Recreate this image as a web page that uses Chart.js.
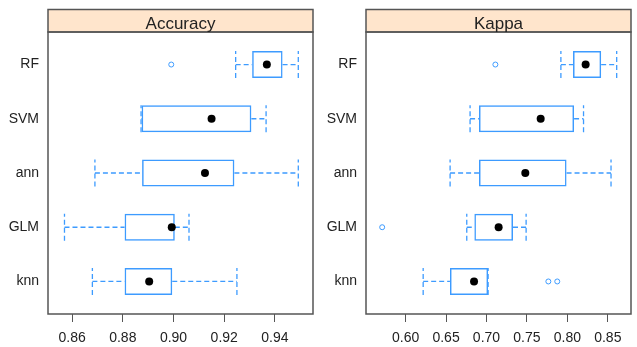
<!DOCTYPE html>
<html lang="en">
<head>
    <meta charset="UTF-8">
    <title>Accuracy and Kappa by model</title>
    <script src="https://cdn.jsdelivr.net/npm/chart.js"></script>
    <style>
        body { margin: 0; background: #fff; }
        .panel { position: absolute; top: 0; }
    </style>
</head>
<body>
    <canvas id="accChart" class="panel" width="318" height="347" style="left:0px"></canvas>
    <canvas id="kapChart" class="panel" width="318" height="347" style="left:318px"></canvas>
    <script>
        // models, top to bottom
        var models = ['RF', 'SVM', 'ann', 'GLM', 'knn'];

        // Accuracy: whisker low, Q1, median, Q3, whisker high, outliers
        var accLow  = [0.9245, 0.8872, 0.8690, 0.8570, 0.8680];
        var accQ1   = [0.9310, 0.8874, 0.8876, 0.8807, 0.8807];
        var accMed  = [0.9368, 0.9150, 0.9124, 0.8993, 0.8904];
        var accQ3   = [0.9430, 0.9307, 0.9240, 0.9005, 0.8995];
        var accHigh = [0.9492, 0.9365, 0.9492, 0.9061, 0.9250];
        var accOut  = [[0.8991], [], [], [], []];
        var accTicks = [0.86, 0.88, 0.90, 0.92, 0.94];

        // Kappa
        var kapLow  = [0.7920, 0.6797, 0.6550, 0.6756, 0.6217];
        var kapQ1   = [0.8070, 0.6907, 0.6907, 0.6850, 0.6548];
        var kapMed  = [0.8226, 0.7670, 0.7480, 0.7150, 0.6846];
        var kapQ3   = [0.8418, 0.8083, 0.7990, 0.7328, 0.7020];
        var kapHigh = [0.8610, 0.8200, 0.8540, 0.7490, 0.7020];
        var kapOut  = [[0.7110], [], [], [0.5710], [0.7765, 0.7875]];
        var kapTicks = [0.60, 0.65, 0.70, 0.75, 0.80, 0.85];

        var BLUE = '#3d9bff';
        var FONT = '"Liberation Sans", Arial, sans-serif';

        // strip on top + panel frame
        var panelFrame = {
            id: 'panelFrame',
            afterDraw: function(chart, args, opts) {
                var ctx = chart.ctx, a = chart.chartArea;
                var h = 22.5;
                ctx.save();
                ctx.fillStyle = '#ffe5cc';
                ctx.fillRect(a.left, a.top - h, a.right - a.left, h);
                ctx.strokeStyle = '#555';
                ctx.lineWidth = 1.5;
                ctx.strokeRect(a.left, a.top - h, a.right - a.left, h);
                ctx.strokeRect(a.left, a.top, a.right - a.left, a.bottom - a.top);
                ctx.fillStyle = '#222';
                ctx.font = '17px ' + FONT;
                ctx.textAlign = 'center';
                ctx.textBaseline = 'alphabetic';
                ctx.fillText(opts.title, (a.left + a.right) / 2, a.top - 3.5);
                ctx.restore();
            }
        };

        function rowY(i) { return models.length - i; }

        function whiskers(lo, q1, q3, hi) {
            var pts = [];
            var gap = { x: null, y: null };
            models.forEach(function(m, i) {
                var y = rowY(i);
                pts.push({ x: lo[i], y: y - 0.25 }, { x: lo[i], y: y + 0.25 }, gap,
                         { x: lo[i], y: y }, { x: q1[i], y: y }, gap,
                         { x: q3[i], y: y }, { x: hi[i], y: y }, gap,
                         { x: hi[i], y: y - 0.25 }, { x: hi[i], y: y + 0.25 }, gap);
            });
            return pts;
        }

        function makePanel(id, title, lo, q1, med, q3, hi, out, ticks, xmin, xmax) {
            var outliers = [];
            out.forEach(function(vals, i) {
                vals.forEach(function(v) { outliers.push({ x: v, y: rowY(i) }); });
            });
            return new Chart(document.getElementById(id), {
                type: 'bar',
                data: {
                    datasets: [{
                        type: 'scatter',
                        data: models.map(function(m, i) { return { x: med[i], y: rowY(i) }; }),
                        pointRadius: 4,
                        pointBackgroundColor: '#000',
                        pointBorderWidth: 0
                    }, {
                        type: 'scatter',
                        data: outliers,
                        pointRadius: 2.5,
                        pointBackgroundColor: '#fff',
                        pointBorderColor: BLUE,
                        pointBorderWidth: 1
                    }, {
                        type: 'bar',
                        data: models.map(function(m, i) { return { x: [q1[i], q3[i]], y: rowY(i) }; }),
                        backgroundColor: 'rgba(0,0,0,0)',
                        borderColor: BLUE,
                        borderWidth: 1.5,
                        borderSkipped: false,
                        categoryPercentage: 1,
                        barPercentage: 0.5
                    }, {
                        type: 'line',
                        data: whiskers(lo, q1, q3, hi),
                        borderColor: BLUE,
                        borderWidth: 1.3,
                        borderDash: [5, 3],
                        pointRadius: 0,
                        spanGaps: false,
                        fill: false,
                        tension: 0
                    }]
                },
                options: {
                    indexAxis: 'y',
                    responsive: false,
                    animation: false,
                    events: [],
                    layout: { padding: { top: 32, right: 2, left: 0, bottom: 0 } },
                    plugins: {
                        legend: { display: false },
                        tooltip: { enabled: false },
                        panelFrame: { title: title }
                    },
                    scales: {
                        x: {
                            type: 'linear',
                            min: xmin,
                            max: xmax,
                            offset: false,
                            afterBuildTicks: function(s) { s.ticks = ticks.map(function(v) { return { value: v }; }); },
                            afterFit: function(s) { s.height = 33; },
                            border: { display: false },
                            grid: { offset: false, drawOnChartArea: false, drawTicks: true, tickLength: 8, color: '#555', lineWidth: 1 },
                            ticks: {
                                autoSkip: false,
                                maxRotation: 0,
                                padding: 8,
                                color: '#222',
                                font: { family: FONT, size: 14 },
                                callback: function(v) { return Number(v).toFixed(2); }
                            }
                        },
                        y: {
                            type: 'linear',
                            min: 0.4,
                            max: models.length + 0.6,
                            offset: false,
                            afterBuildTicks: function(s) { s.ticks = models.map(function(m, i) { return { value: rowY(i) }; }); },
                            afterFit: function(s) { s.width = 48; },
                            border: { display: false },
                            grid: { display: false, offset: false, drawTicks: false },
                            ticks: {
                                padding: 9,
                                color: '#222',
                                font: { family: FONT, size: 14 },
                                callback: function(v) { return models[models.length - v]; }
                            }
                        }
                    }
                },
                plugins: [panelFrame]
            });
        }

        makePanel('accChart', 'Accuracy', accLow, accQ1, accMed, accQ3, accHigh, accOut, accTicks, 0.8505, 0.955);
        makePanel('kapChart', 'Kappa', kapLow, kapQ1, kapMed, kapQ3, kapHigh, kapOut, kapTicks, 0.551, 0.8787);
    </script>
</body>
</html>
